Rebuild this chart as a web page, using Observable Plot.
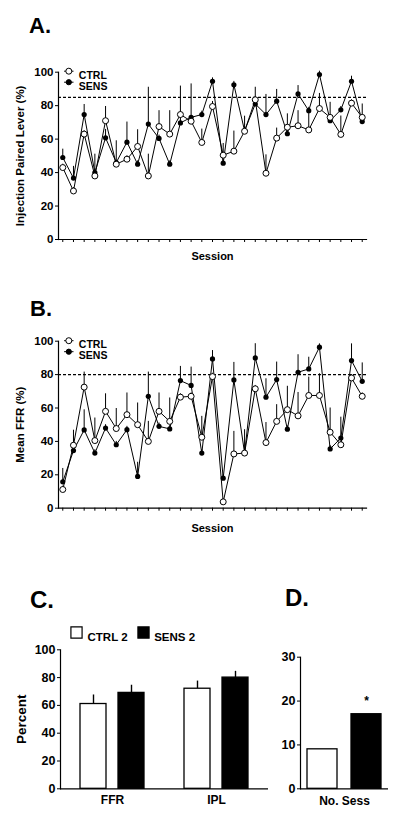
<!DOCTYPE html>
<html><head><meta charset="utf-8">
<script src="https://cdn.jsdelivr.net/npm/d3@7"></script>
<script src="https://cdn.jsdelivr.net/npm/@observablehq/plot@0.6"></script>
<style>
body{margin:0;background:#fff;}
#root{position:relative;width:400px;height:817px;overflow:hidden;font-family:"Liberation Sans",Arial,sans-serif;font-weight:bold;color:#000;}
.panel{position:absolute;}
.ttl{position:absolute;font-weight:bold;}
</style></head>
<body><div id="root"></div>
<script>
// ---------- data ----------
const sessions = [1,2,3,4,5,6,7,8,9,10,11,12,13,14,15,16,17,18,19,20,21,22,23,24,25,26,27,28,29];
const seriesNames = ["CTRL", "SENS"];

// Panel A: Injection Paired Lever (%)
const ctrlA = [43,29,63,38,71,45,48,55.6,38,67.5,63,74.7,70.7,58,79.5,50.4,52.8,64.7,83.5,39.6,60.6,67.1,68,65.5,78.3,73,62.8,81.5,73];
const sensA = [49,36.7,74.7,40,60.8,46,58.2,45,69,60.4,45,69.7,73,74.7,94.6,45.6,92.5,65,81,74.7,82.7,63.2,87,77,98.6,71,77.5,94.6,70.5];
const errCtrlA = [2,2,2,13,8.5,2,2,10,13,9.5,14,2,2,8,3,7,12,9,2,11,6,8,9,10,9,9,11,2,8];
const errSensA = [5,7,6,2,5,13,12,2,22,2,2,22,20,2,2,2,2,2,10,12,7,2,5,2,2,2,2,3,2];
const thresholdA = 85;

// Panel B: Mean FFR (%)
const ctrlB = [11.2,37.7,72.5,40.5,58,47.7,56,50,40,58,52,66.5,67,42.5,78.8,3.8,32.5,33,71.5,39.3,52,59,55.3,67.5,67.5,45.5,38,78,67];
const sensB = [15.8,34.5,46.9,33,48,38,47,19,67,49,47.5,76.4,73.5,33,89.4,18,76.8,33,90,66.5,77,47.3,81.4,83.4,96.4,35.5,42,88.4,76];
const errCtrlB = [2,9,9,13.5,10.5,12,13,13,12,11,14,2,2,12.5,2,2,13.5,2,2,12,10,14,14,11,13,14.5,2,2,2];
const errSensB = [8,2,12,2,2,2,2,8.5,14.5,2,2,8.5,11,2,5,2,10.5,14,8.5,11,10.5,2,10.5,7,2,2,12.5,10,11];
const thresholdB = 80;

const yTicksAB = [0,20,40,60,80,100];

// Panel C
const measuresC = ["FFR", "IPL"];
const groupsC = ["CTRL 2", "SENS 2"];
const ctrlC = [61, 72];
const sensC = [69, 80];
const errCtrlC = [6.5, 5.5];
const errSensC = [5.5, 4.5];
const yTicksC = [0,20,40,60,80,100];

// Panel D
const labelD = "No. Sess";
const valuesD = [9, 17];
const starsD = ["", "*"];
const yTicksD = [0,10,20,30];

// ---------- drawing ----------
const root = document.getElementById("root");
const FONT = "'Liberation Sans', Arial, Helvetica, sans-serif";
const baseStyle = {fontFamily: FONT, fontWeight: "bold", fontSize: "11px", background: "none", color: "black", overflow: "visible"};
const lineSymbol = {draw(ctx) { ctx.moveTo(-4.7, 0); ctx.lineTo(4.7, 0); }};

function place(el, left, top) {
  el.classList.add("panel");
  el.style.left = left + "px";
  el.style.top = top + "px";
  root.appendChild(el);
}
function title(txt, left, top, size) {
  const d = document.createElement("div");
  d.className = "ttl";
  d.textContent = txt;
  d.style.left = left + "px";
  d.style.top = top + "px";
  d.style.fontSize = size + "px";
  d.style.lineHeight = size + "px";
  root.appendChild(d);
}

function linePanel(o) {
  const rows = sessions.map((s, i) => ({s, ctrl: o.ctrl[i], sens: o.sens[i], ec: o.errC[i], es: o.errS[i]}));
  const legend = [];
  seriesNames.forEach((name, i) => {
    const dy = o.legendDy + i * 11;
    legend.push(Plot.dot([name], {frameAnchor: "top-left", dx: 10.3, dy, symbol: lineSymbol, fill: "none", stroke: "black", strokeWidth: 1}));
    legend.push(Plot.dot([name], {frameAnchor: "top-left", dx: 10.3, dy, r: i === 0 ? 3 : 2.6, fill: i === 0 ? "white" : "black", stroke: "black", strokeWidth: 1}));
    legend.push(Plot.text([name], {frameAnchor: "top-left", dx: 20.3, dy, text: d => d, textAnchor: "start", fontSize: 10.5}));
  });
  return Plot.plot({
    width: 400, height: 235,
    marginLeft: 58, marginRight: 34, marginTop: o.marginTop, marginBottom: o.marginBottom,
    x: {domain: [0.6, 29.4]},
    y: {domain: [0, 100]},
    style: baseStyle,
    marks: [
      Plot.ruleY([o.threshold], {strokeDasharray: "3,2", strokeWidth: 1.3}),
      Plot.frame({anchor: "left", strokeWidth: 1.2}),
      Plot.frame({anchor: "bottom", strokeWidth: 1.2}),
      Plot.axisY({ticks: yTicksAB, tickSize: 3, tickPadding: 2, label: null, fontSize: 11.5}),
      Plot.axisX({ticks: sessions, tickSize: 3, tickFormat: () => "", label: null}),
      Plot.text([o.yLabel], {frameAnchor: "left", text: d => d, textAnchor: "middle", rotate: -90, dx: -38.5, fontSize: 11.5}),
      Plot.text(["Session"], {frameAnchor: "bottom", text: d => d, dy: o.sessionDy, lineAnchor: "bottom", fontSize: 11}),
      Plot.ruleX(rows, {x: "s", y1: "sens", y2: d => d.sens + d.es, strokeWidth: 1}),
      Plot.ruleX(rows, {x: "s", y1: "ctrl", y2: d => d.ctrl + d.ec, strokeWidth: 1}),
      Plot.line(rows, {x: "s", y: "sens", stroke: "black", strokeWidth: 1}),
      Plot.line(rows, {x: "s", y: "ctrl", stroke: "black", strokeWidth: 1}),
      Plot.dot(rows, {x: "s", y: "sens", r: 2.6, fill: "black"}),
      Plot.dot(rows, {x: "s", y: "ctrl", r: 3, fill: "white", stroke: "black", strokeWidth: 1}),
      ...legend
    ]
  });
}

// Panel A
place(linePanel({ctrl: ctrlA, sens: sensA, errC: errCtrlA, errS: errSensA, threshold: thresholdA,
  yLabel: "Injection Paired Lever (%)", marginTop: 31.7, marginBottom: 36, sessionDy: 20, legendDy: -1}), 0, 40);
// Panel B
place(linePanel({ctrl: ctrlB, sens: sensB, errC: errCtrlB, errS: errSensB, threshold: thresholdB,
  yLabel: "Mean FFR (%)", marginTop: 30.7, marginBottom: 37.3, sessionDy: 24, legendDy: -0.5}), 0, 310);

// Panel C
const rowsC = [];
measuresC.forEach((m, i) => {
  rowsC.push({m, g: groupsC[0], v: ctrlC[i], e: errCtrlC[i]});
  rowsC.push({m, g: groupsC[1], v: sensC[i], e: errSensC[i]});
});
const legendC = [];
groupsC.forEach((g, i) => {
  legendC.push(Plot.dot([g], {frameAnchor: "top-left", facetAnchor: "left", dx: 16 + i * 67, dy: -17.3, symbol: "square", r: 6.3, fill: i === 0 ? "white" : "black", stroke: "black", strokeWidth: 1.2}));
  legendC.push(Plot.text([g], {frameAnchor: "top-left", facetAnchor: "left", dx: 27 + i * 66.7, dy: -17.3, text: d => d, textAnchor: "start", fontSize: 11.5}));
});
place(Plot.plot({
  width: 280, height: 237,
  marginLeft: 59, marginRight: 12, marginTop: 69.3, marginBottom: 28.7,
  fx: {domain: measuresC, padding: 0},
  x: {domain: groupsC, paddingInner: 0.31, paddingOuter: 0.5, axis: null},
  y: {domain: [0, 100]},
  color: {domain: groupsC, range: ["white", "black"]},
  style: baseStyle,
  marks: [
    Plot.ruleX(rowsC, {fx: "m", x: "g", y1: "v", y2: d => d.v + d.e, strokeWidth: 1.4}),
    Plot.barY(rowsC, {fx: "m", x: "g", y: "v", fill: "g", stroke: "black", strokeWidth: 1.3}),
    Plot.ruleY([0], {strokeWidth: 1.2}),
    Plot.frame({anchor: "left", facetAnchor: "left", strokeWidth: 1.2}),
    Plot.axisY({ticks: yTicksC, tickSize: 3, tickPadding: 2, label: null, fontSize: 12.5}),
    Plot.axisFx({anchor: "bottom", tickSize: 0, tickPadding: 6.5, label: null, fontSize: 12}),
    Plot.text(["Percent"], {frameAnchor: "left", facetAnchor: "left", text: d => d, textAnchor: "middle", rotate: -90, dx: -39, fontSize: 13.5}),
    ...legendC
  ]
}), 0, 580);

// Panel D
const rowsD = groupsC.map((g, i) => ({g, v: valuesD[i], star: starsD[i]}));
place(Plot.plot({
  width: 150, height: 237,
  marginLeft: 50, marginRight: 12, marginTop: 76.7, marginBottom: 28.7,
  x: {domain: groupsC, paddingInner: 0.32, paddingOuter: 0.155, axis: null},
  y: {domain: [0, 30]},
  color: {domain: groupsC, range: ["white", "black"]},
  style: baseStyle,
  marks: [
    Plot.barY(rowsD, {x: "g", y: "v", fill: "g", stroke: "black", strokeWidth: 1.3}),
    Plot.ruleY([0], {strokeWidth: 1.2}),
    Plot.frame({anchor: "left", strokeWidth: 1.2}),
    Plot.axisY({ticks: yTicksD, tickSize: 3, tickPadding: 2, label: null, fontSize: 12.5}),
    Plot.text([labelD], {frameAnchor: "bottom", text: d => d, dy: 15.7, lineAnchor: "bottom", fontSize: 12}),
    Plot.text(rowsD, {x: "g", y: "v", text: "star", dy: -9, lineAnchor: "bottom", fontSize: 12})
  ]
}), 250, 580);

// Panel titles
title("A.", 29, 14.7, 22);
title("B.", 30, 298.4, 22);
title("C.", 30, 588, 24);
title("D.", 285, 586.4, 24);
</script>
</body></html>
